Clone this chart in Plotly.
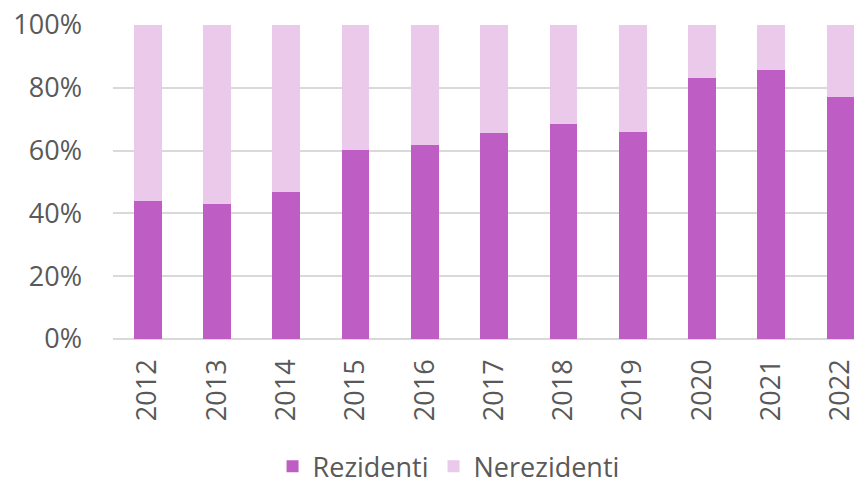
import plotly.graph_objects as go

years = ["2012", "2013", "2014", "2015", "2016", "2017", "2018", "2019", "2020", "2021", "2022"]
rezidenti = [44.0, 43.1, 46.7, 60.3, 61.7, 65.5, 68.5, 66.0, 83.2, 85.6, 77.1]
nerezidenti = [round(100 - v, 1) for v in rezidenti]
y_ticks = [0, 20, 40, 60, 80, 100]
y_tick_labels = ["0%", "20%", "40%", "60%", "80%", "100%"]

FONT = "Open Sans, Noto Sans, DejaVu Sans, sans-serif"
TXT = "#595959"

fig = go.Figure()
fig.add_trace(go.Bar(x=years, y=rezidenti, name="Rezidenti",
                     marker=dict(color="#BE5EC4", line=dict(width=0))))
fig.add_trace(go.Bar(x=years, y=nerezidenti, name="Nerezidenti",
                     marker=dict(color="#EAC9EB", line=dict(width=0))))

fig.update_layout(
    barmode="stack",
    bargap=0.6,
    width=854, height=470,
    margin=dict(l=105, r=0, t=17, b=139, autoexpand=False),
    paper_bgcolor="white", plot_bgcolor="white",
    font=dict(family=FONT, size=27, color=TXT),
    showlegend=True,
    legend=dict(orientation="h", x=0.448, xanchor="center",
                y=-0.407, yanchor="middle", font=dict(size=27, color=TXT),
                traceorder="normal", bgcolor="rgba(0,0,0,0)"),
    xaxis=dict(type="category", range=[-0.5, 10.31], tickangle=-90,
               tickmode="array", tickvals=years, ticktext=years,
               showgrid=False, showline=False, ticks="", automargin=False,
               ticklabeloverflow="allow",
               ticklabelstandoff=14, tickfont=dict(size=27, color=TXT)),
    yaxis=dict(range=[0, 100], tickvals=y_ticks, ticktext=y_tick_labels,
               showgrid=True, gridcolor="#D9D9D9", gridwidth=1.5,
               zeroline=True, zerolinecolor="#D9D9D9", zerolinewidth=1.5,
               showline=False, ticks="", ticklabelstandoff=30, automargin=False,
               ticklabeloverflow="allow",
               tickfont=dict(size=27, color=TXT)),
)

fig.write_html("out.html")
